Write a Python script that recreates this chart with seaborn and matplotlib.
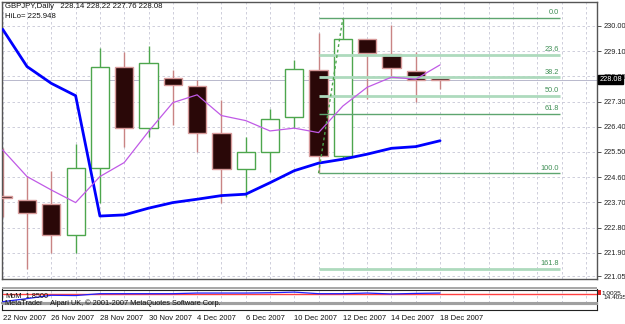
import numpy as np
import pandas as pd
import matplotlib
matplotlib.use("Agg")
import matplotlib.pyplot as plt
import matplotlib.transforms as mtransforms
from matplotlib.patches import Rectangle
import seaborn as sns

# ---------------- data ----------------
dates = ["22 Nov 2007", "23 Nov 2007", "26 Nov 2007", "27 Nov 2007", "28 Nov 2007",
         "29 Nov 2007", "30 Nov 2007", "3 Dec 2007", "4 Dec 2007", "5 Dec 2007",
         "6 Dec 2007", "7 Dec 2007", "10 Dec 2007", "11 Dec 2007", "12 Dec 2007",
         "13 Dec 2007", "14 Dec 2007", "17 Dec 2007", "18 Dec 2007"]
opens = [223.92, 223.79, 223.64, 222.54, 224.92, 228.52, 226.37, 228.13, 227.86, 226.17,
         224.90, 225.49, 226.76, 228.43, 225.37, 229.52, 228.99, 228.40, 228.14]
highs = [225.63, 224.64, 224.82, 225.79, 229.23, 229.08, 229.29, 228.43, 228.07, 227.36,
         226.05, 227.02, 228.79, 229.76, 230.28, 229.55, 230.04, 229.08, 228.22]
lows = [223.19, 221.30, 221.88, 221.90, 223.67, 225.69, 226.02, 226.46, 225.51, 223.67,
        223.88, 224.80, 226.35, 224.74, 225.30, 227.39, 228.17, 227.30, 227.76]
closes = [223.84, 223.33, 222.54, 224.92, 228.52, 226.37, 228.67, 227.89, 226.17, 224.88,
          225.50, 226.69, 228.45, 225.37, 229.52, 229.02, 228.49, 228.07, 228.08]
ma_fast = [225.57, 224.62, 224.14, 223.69, 224.62, 225.12, 226.23, 227.26, 227.54, 226.80,
           226.62, 226.25, 226.35, 226.19, 227.14, 227.81, 228.17, 228.10, 228.61]
ma_slow = [229.88, 228.55, 227.95, 227.51, 223.21, 223.25, 223.49, 223.69, 223.81, 223.94,
           223.99, 224.40, 224.83, 225.10, 225.24, 225.42, 225.63, 225.69, 225.90]
momentum = [99.17, 99.50, 99.86, 99.83, 100.03, 100.03, 100.03, 100.03, 100.10, 100.10,
            100.10, 100.13, 100.20, 100.03, 100.03, 100.10, 100.00, 100.06, 100.10]
mom_base = 100.0
price_ticks = [230.00, 229.10, 228.20, 227.30, 226.40, 225.50, 224.60, 223.70, 222.80,
               221.90, 221.05]
date_tick_labels = ["22 Nov 2007", "26 Nov 2007", "28 Nov 2007", "30 Nov 2007",
                    "4 Dec 2007", "6 Dec 2007", "10 Dec 2007", "12 Dec 2007",
                    "14 Dec 2007", "18 Dec 2007"]
fib_levels = [0.0, 23.6, 38.2, 50.0, 61.8, 100.0, 161.8]
fib_high = 230.28
fib_low = 224.74
last_price = 228.08
hilo = 225.948

# ---------------- figure ----------------
sns.set_style("white")
plt.rcParams["font.family"] = ["Liberation Sans", "DejaVu Sans"]
FS = 5.3

W, H = 625, 324
fig = plt.figure(figsize=(W / 100, H / 100), dpi=100)
fig.patch.set_facecolor("white")


def rect(x0, y0, x1, y1):
    return [x0 / W, 1 - y1 / H, (x1 - x0) / W, (y1 - y0) / H]


def fpt(x, y):
    return x / W, 1 - y / H


XL = (-0.03, 24.46)
GRID = "#C6C6D6"
BEAR_BODY = "#2A0808"
BEAR_EDGE = "#D79A9A"
BULL_EDGE = "#4DA64D"

ax = fig.add_axes(rect(2, 2, 597, 279))
ax.set_xlim(*XL)
ax.set_ylim(220.96, 230.857)
ax.set_facecolor("white")

# grid
for gx in range(0, 25):
    ax.axvline(gx, color=GRID, lw=0.6, ls=(0, (3, 3)), zorder=0)
for p in price_ticks:
    ax.axhline(p, color=GRID, lw=0.6, ls=(0, (3, 3)), zorder=0)

# bid line
ax.axhline(last_price, color="#B8B8CC", lw=0.7, zorder=1)

idx = np.arange(len(dates))
o = np.array(opens); c = np.array(closes); h = np.array(highs); l = np.array(lows)
bull = c >= o
wick_cols = [BULL_EDGE if b else "#C98484" for b in bull]
ax.vlines(idx, l, h, colors=wick_cols, lw=1.0, zorder=2)
bw = 0.75
ax.bar(idx[bull], (c - o)[bull], bottom=o[bull], width=bw, color="white",
       edgecolor=BULL_EDGE, linewidth=1.0, zorder=3)
ax.bar(idx[~bull], (o - c)[~bull], bottom=c[~bull], width=bw, color=BEAR_BODY,
       edgecolor=BEAR_EDGE, linewidth=1.0, zorder=3)

# moving averages
df = pd.DataFrame({"i": idx, "fast": ma_fast, "slow": ma_slow})
sns.lineplot(data=df, x="i", y="slow", ax=ax, color="#0000FF", lw=2.0, zorder=5)
sns.lineplot(data=df, x="i", y="fast", ax=ax, color="#C05AE6", lw=0.9, zorder=5)

# fibonacci
fib_x0, fib_x1 = 13, 22.93
ax.plot([13, 14], [fib_low, fib_high], color="#4DA64D", lw=1.0, ls=(0, (2, 2)), zorder=6)
for lv in fib_levels:
    pr = fib_high - lv / 100.0 * (fib_high - fib_low)
    if lv in (0.0, 61.8, 100.0):
        col, lw = "#5DA56F", 1.0
    else:
        col, lw = "#AEDABD", 2.0
    ax.plot([fib_x0, fib_x1], [pr, pr], color=col, lw=lw, zorder=4, solid_capstyle="butt")
    ax.text(fib_x1 - 0.05, pr + 0.06, f"{lv:.1f}", ha="right", va="bottom",
            fontsize=FS, color="#3F8F55", zorder=7)

ax.set_xlabel(""); ax.set_ylabel("")
ax.set_xticks([])
ax.yaxis.tick_right()
ax.set_yticks(price_ticks)
ax.set_yticklabels([f"{p:.2f}" for p in price_ticks], fontsize=FS, color="#222222")
ax.tick_params(axis="y", which="both", right=True, length=3, width=0.6, pad=1.5,
               colors="#333333", labelcolor="#222222")
for s in ax.spines.values():
    s.set_color("#555555"); s.set_linewidth(1.0)

# last price box
tr = mtransforms.blended_transform_factory(ax.transAxes, ax.transData)
ax.text(1.004, last_price, f"{last_price:.2f}", transform=tr, ha="left", va="center",
        fontsize=FS, color="white", zorder=10,
        bbox=dict(boxstyle="square,pad=0.15", fc="black", ec="black"))

# title texts
fig.text(*fpt(5, 7), "GBPJPY,Daily   228.14 228.22 227.76 228.08", fontsize=5.6,
         color="#111111", va="center", ha="left")
fig.text(*fpt(5, 16), f"HiLo= {hilo:.3f}", fontsize=5.6, color="#111111",
         va="center", ha="left")

# separator band
fig.patches.append(Rectangle(fpt(2, 288.6), 595 / W, 1.8 / H, transform=fig.transFigure,
                             fc="#A8A8A8", ec="none"))

# momentum panel
axm = fig.add_axes(rect(2, 289.5, 597, 303))
axm.set_xlim(*XL)
axm.set_ylim(99.03, 100.48)
for gx in range(0, 25):
    axm.axvline(gx, color=GRID, lw=0.6, ls=(0, (3, 3)), zorder=0)
axm.axhline(mom_base, color="#FF4040", lw=1.0, zorder=2)
dm = pd.DataFrame({"i": idx, "m": momentum})
sns.lineplot(data=dm, x="i", y="m", ax=axm, color="#2020FF", lw=0.9, zorder=3)
axm.set_xticks([]); axm.set_yticks([])
axm.set_xlabel(""); axm.set_ylabel("")
for s in axm.spines.values():
    s.set_color("#222222"); s.set_linewidth(0.8)
axm.spines["bottom"].set_color("#A0A0A0"); axm.spines["bottom"].set_linewidth(1.5)
axm.text(0.006, 0.55, "MoM_1.8500", transform=axm.transAxes, fontsize=FS,
         color="#111111", va="center", ha="left")
fig.patches.append(Rectangle(fpt(598, 295), 3 / W, 5 / H, transform=fig.transFigure,
                             fc="#E02020", ec="none"))
fig.text(*fpt(601, 293.5), "1.0035", fontsize=4.6, color="#111111", va="center", ha="left")
fig.text(*fpt(603, 297.5), "14.4035", fontsize=4.6, color="#111111", va="center", ha="left")

# bottom thin panel with date axis
axb = fig.add_axes(rect(2, 304, 597, 310))
axb.set_xlim(*XL)
axb.set_yticks([])
axb.set_xticks(list(range(0, 19, 2)))
axb.set_xticklabels(date_tick_labels, fontsize=FS + 0.2, ha="left", color="#111111")
axb.tick_params(axis="x", length=3, width=0.6, pad=0.5, colors="#333333",
                labelcolor="#111111")
for s in axb.spines.values():
    s.set_color("#222222"); s.set_linewidth(0.8)
axb.spines["top"].set_color("#A0A0A0")
fig.text(*fpt(5, 303.5), "MetaTrader    Alpari UK, \u00a9 2001-2007 MetaQuotes Software Corp.",
         fontsize=FS, color="#111111", va="center", ha="left", zorder=10)

fig.savefig("out.png", dpi=100, facecolor="white")
